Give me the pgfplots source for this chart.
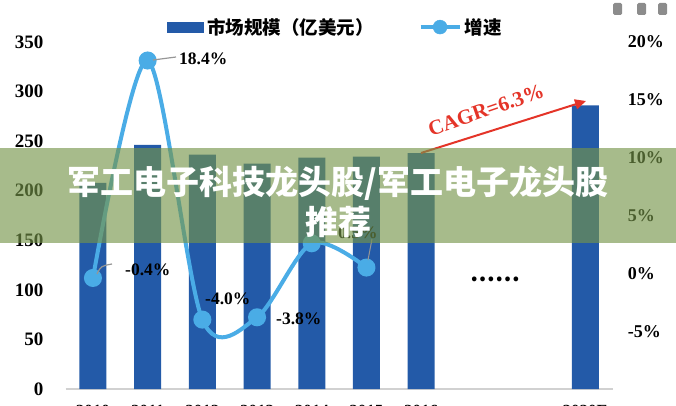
\documentclass[border=0pt]{standalone}
\usepackage{fontspec}
\setmainfont{Liberation Serif}
\newfontfamily\cjk{Noto Sans CJK SC}
\usepackage{pgfplots}
\pgfplotsset{compat=1.18}
\usetikzlibrary{arrows.meta}
\definecolor{barblue}{RGB}{35,90,168}
\definecolor{lineblue}{RGB}{74,172,230}
\definecolor{bannerc}{RGB}{117,148,73}
\definecolor{cagr}{RGB}{228,52,40}
\definecolor{lead}{RGB}{150,150,150}
\begin{document}
\begin{tikzpicture}[x=1pt,y=1pt]
\useasboundingbox (0,0) rectangle (676,405);
\clip (0,0) rectangle (676,405);
\begin{axis}[
  at={(65.6pt,16pt)}, anchor=south west, scale only axis,
  width=547pt, height=347pt,
  xmin=-0.5, xmax=9.5, ymin=0, ymax=350,
  axis x line*=bottom, axis y line*=left,
  y axis line style={draw=none},
  x axis line style={draw=black!18, line width=1.2pt},
  major tick length=0pt,
  ytick={0,50,...,350},
  xtick={0,1,2,3,4,5,6,9},
  xticklabels={2010,2011,2012,2013,2014,2015,2016,2020E},
  /pgf/number format/assume math mode=true,
  yticklabel style={font=\fontsize{19}{19}\selectfont\bfseries, inner sep=0pt, xshift=-22pt},
  xticklabel style={font=\fontsize{17}{17}\selectfont\bfseries, inner sep=0pt, anchor=north, yshift=-16pt},
  legend style={at={(0.494,1.043)}, anchor=center, draw=none, fill=none,
    legend columns=2, font=\cjk\bfseries\fontsize{18.5}{18.5}\selectfont,
    /tikz/every even column/.append style={column sep=42pt},
    nodes={inner sep=3pt}},
]
\addplot[ybar, bar width=27pt, fill=barblue, draw=none,
  legend image code/.code={\fill[barblue] (0pt,-5.5pt) rectangle (37pt,5.5pt);}]
  coordinates {(0,208) (1,246.3) (2,236.4) (3,227.4) (4,233.3) (5,234.5) (6,238) (9,286)};
\addlegendentry{市场规模（亿美元）}
\addlegendimage{legend image code/.code={\draw[lineblue, line width=4pt] (0pt,0pt)--(39pt,0pt); \fill[lineblue] (19.5pt,0pt) circle (7pt);}}
\addlegendentry{增速}
\end{axis}
\begin{axis}[
  at={(65.6pt,16pt)}, anchor=south west, scale only axis,
  width=547pt, height=347pt,
  xmin=-0.5, xmax=9.5, ymin=-10, ymax=20,
  axis x line=none, axis y line*=right,
  y axis line style={draw=none},
  major tick length=0pt,
  ytick={-5,0,5,10,15,20},
  yticklabels={-5\%,0\%,5\%,10\%,15\%,20\%},
  yticklabel style={font=\fontsize{18}{18}\selectfont\bfseries, inner sep=0pt, xshift=15pt, anchor=west},
]
\addplot[lineblue, line width=4pt, smooth, mark=*, mark size=7pt,
  mark options={fill=lineblue, draw=none}]
  coordinates {(0,-0.4) (1,18.4) (2,-4.0) (3,-3.8) (4,2.6) (5,0.5)};
\end{axis}
% data labels
\begin{scope}[font=\fontsize{17.5}{17.5}\selectfont\bfseries]
\draw[lead, line width=1.2pt] (153,345) -- (176,348);
\node[anchor=west, inner sep=0pt] at (179,346) {18.4\%};
\draw[lead, line width=1.2pt] (97,131) .. controls (101,139) .. (112,141);
\node[anchor=west, inner sep=0pt] at (125,135) {-0.4\%};
\node[anchor=west, inner sep=0pt] at (205,106) {-4.0\%};
\node[anchor=west, inner sep=0pt] at (276,86) {-3.8\%};
\draw[lead, line width=1pt] (368,145) -- (372,166);
\node[anchor=west, inner sep=0pt] at (338,172) {0.5\%};
\node[inner sep=0pt] at (495,126) {\cjk\fontsize{22}{22}\selectfont ……};
\end{scope}
% CAGR arrow
\draw[cagr, line width=2pt, -{Triangle[length=11pt,width=10pt]}] (421,252) -- (586,304);
\node[rotate=19, text=cagr, font=\fontsize{21}{21}\selectfont\bfseries] at (486,295) {CAGR=6.3\%};
% icons
\foreach \xx in {613,637,658} {\fill[black!45, rounded corners=1.5pt] (\xx,390) rectangle ++(9,12);}
% banner
\fill[bannerc, opacity=0.64] (0,162) rectangle (676,257);
\node[text=white, font=\cjk\bfseries\fontsize{33}{33}\selectfont] at (338,222) {军工电子科技龙头股/军工电子龙头股};
\node[text=white, font=\cjk\bfseries\fontsize{33}{33}\selectfont] at (338,183) {推荐};
\end{tikzpicture}
\end{document}
